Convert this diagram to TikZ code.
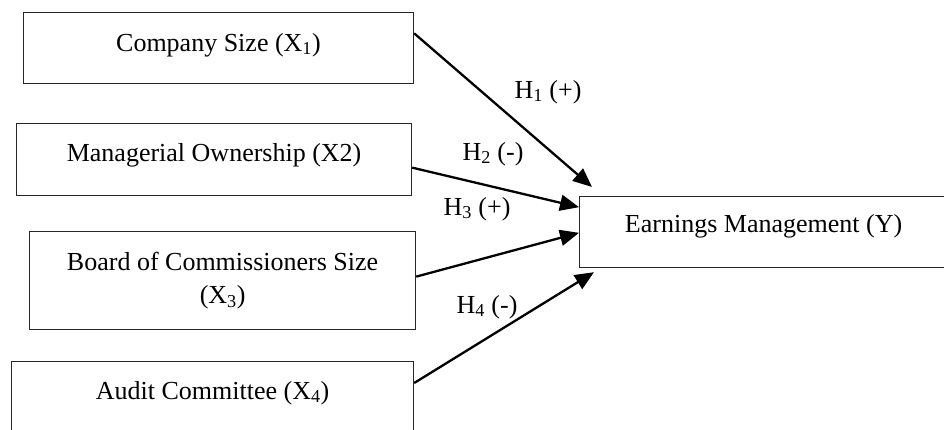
\documentclass[tikz,border=0pt]{standalone}
\usepackage{fontspec}
\setmainfont{Liberation Serif}
\usetikzlibrary{arrows.meta,calc}
\begin{document}
\begin{tikzpicture}[x=1pt,y=-1pt,
  box/.style={draw=black!85, line width=1.2pt, inner xsep=0pt, inner ysep=0pt, font=\fontsize{26}{33}\selectfont},
  lbl/.style={font=\fontsize{26}{33}\selectfont, inner sep=0pt},
  link/.style={line width=2.3pt, -{Triangle[length=19pt,width=16pt]}}]
\useasboundingbox (0,0) rectangle (944,430);
\clip (0,0) rectangle (944,430);
\node[box, anchor=north west, minimum width=390.3pt, text height=38.6pt, text depth=32.4pt] (x1) at (22.7,12) {Company Size (X\textsubscript{1})};
\node[box, anchor=north west, minimum width=395pt, text height=37.6pt, text depth=34.4pt] (x2) at (16,123) {Managerial Ownership (X2)};
\node[box, anchor=north west, minimum width=386pt, minimum height=98pt, align=center] (x3) at (29,231) {Board of Commissioners Size\\(X\textsubscript{3})};
\node[box, anchor=north west, minimum width=402pt, text height=37.6pt, text depth=80pt] (x4) at (11,361) {Audit Committee (X\textsubscript{4})};
\node[box, anchor=north west, minimum width=368pt, text height=35.6pt, text depth=35.4pt] (em) at (579,196) {Earnings Management (Y)};
\draw[link] ($(x1.north east)!0.296!(x1.south east)$) -- ($(em.north west)+(13,-9)$);
\draw[link] ($(x2.north east)!0.61!(x2.south east)$) -- ($(em.north west)!0.155!(em.south west)$);
\draw[link] ($(x3.north east)!0.46!(x3.south east)$) -- ($(em.north west)!0.51!(em.south west)$);
\draw[link] ($(x4.north east)+(0,22)$) -- ($(em.south west)+(15,4)$);
\node[lbl] (h1) at (548,92) {H\textsubscript{1} (+)};
\node[lbl] (h2) at (493,154) {H\textsubscript{2} (-)};
\node[lbl] (h3) at (477,209) {H\textsubscript{3} (+)};
\node[lbl] (h4) at (487,307) {H\textsubscript{4} (-)};
\end{tikzpicture}
\end{document}
